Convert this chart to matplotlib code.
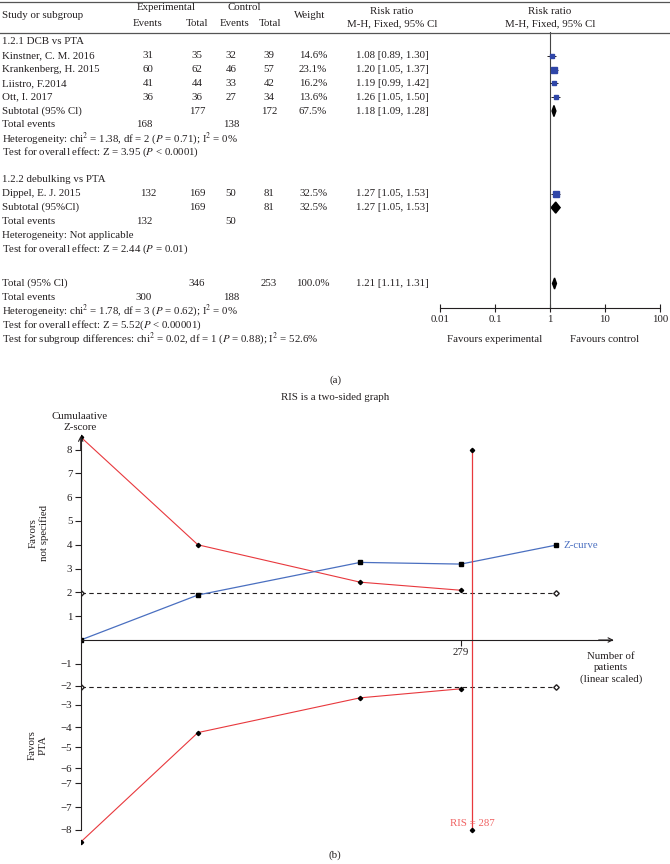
import matplotlib
matplotlib.use("Agg")
import matplotlib.pyplot as plt
import numpy as np
from matplotlib.patches import Polygon

FS = 7.8
plt.rcParams['font.family'] = ['Liberation Serif', 'DejaVu Serif']
plt.rcParams['mathtext.fontset'] = 'stix'
plt.rcParams['font.size'] = FS

INK = '#231f20'
BLUE = '#2f46a8'
RED = '#e8383d'
ZBLUE = '#4a6fc0'

# ---- data: forest plot (a) ----
studies_1 = ["Kinstner, C. M. 2016", "Krankenberg, H. 2015", "Liistro, F.2014", "Ott, I. 2017"]
exp_events_1 = [31, 60, 41, 36]
exp_total_1 = [35, 62, 44, 36]
ctl_events_1 = [32, 46, 33, 27]
ctl_total_1 = [39, 57, 42, 34]
weight_1 = [14.6, 23.1, 16.2, 13.6]
rr_1 = [1.08, 1.20, 1.19, 1.26]
lo_1 = [0.89, 1.05, 0.99, 1.05]
hi_1 = [1.30, 1.37, 1.42, 1.50]

studies_2 = ["Dippel, E. J. 2015"]
exp_events_2 = [132]
exp_total_2 = [169]
ctl_events_2 = [50]
ctl_total_2 = [81]
weight_2 = [32.5]
rr_2 = [1.27]
lo_2 = [1.05]
hi_2 = [1.53]

# subtotal / total rows
pooled_labels = ["Subtotal (95% Cl)", "Subtotal (95%Cl)", "Total (95% Cl)"]
pooled_exp_total = [177, 169, 346]
pooled_ctl_total = [172, 81, 253]
pooled_weight = [67.5, 32.5, 100.0]
pooled_rr = [1.18, 1.27, 1.21]
pooled_lo = [1.09, 1.05, 1.11]
pooled_hi = [1.28, 1.53, 1.31]
pooled_exp_events = [168, 132, 300]
pooled_ctl_events = [138, 50, 188]

axis_ticks = [0.01, 0.1, 1, 10, 100]

# ---- data: trial sequential analysis (b) ----
patients_bound = [0, 86, 205, 279]
upper_bound = [8.53, 4.0, 2.43, 2.09]
lower_bound = [-8.49, -3.89, -2.43, -2.05]
patients_z = [0, 86, 205, 279, 349]
z_curve = [0, 1.89, 3.26, 3.19, 3.99]
z_conv = 1.96
ris = 287
ris_range = [-8, 8]
y_ticks_up = [1, 2, 3, 4, 5, 6, 7, 8]
y_ticks_low = [-1.0, -1.93, -2.73, -3.66, -4.5, -5.38, -6.01, -7.02, -7.98]
y_labels_low = ['−1', '−2', '−3', '−4', '−5', '−6', '−7', '−7', '−8']

W, H = 670, 864
fig = plt.figure(figsize=(W / 100, H / 100), dpi=100)


def fx(x):
    return x / W


def fy(y):
    return 1 - y / H


def txt(x, y, s, **kw):
    kw.setdefault('va', 'center')
    kw.setdefault('color', INK)
    fig.text(fx(x), fy(y), s, **kw)


# header rules
for yy in (1.5, 32.5):
    fig.add_artist(plt.Line2D([0, 1], [fy(yy), fy(yy)], color='#555555', lw=0.9))

txt(2, 16, "Study or subgroup")
txt(166, 8, "Experimental", ha='center')
txt(244, 8, "Control", ha='center')
for xx, s in zip([148, 197, 235, 270], ["Events", "Total", "Events", "Total"]):
    txt(xx, 24, s, ha='center')
txt(310, 16, "Weight", ha='center')
for xx in (392, 550):
    txt(xx, 11, "Risk ratio", ha='center')
    txt(xx, 24, "M-H, Fixed, 95% Cl", ha='center')

# row layout (pixel y of a row index)
ROW0, ROWH = 42, 13.8


def ry(k):
    return ROW0 + ROWH * k


col_ee, col_et, col_ce, col_ct, col_w, col_rr = 148, 197, 231, 269, 313, 392

ax_f = fig.add_axes([fx(440), fy(308), fx(660) - fx(440), (308 - 32) / H])
ax_f.set_xscale('log')
ax_f.set_xlim(0.01, 100)
ax_f.set_ylim((308 - ROW0) / ROWH, (32 - ROW0) / ROWH)
for sp in ('left', 'right', 'top'):
    ax_f.spines[sp].set_visible(False)
ax_f.spines['bottom'].set_color(INK)
ax_f.set_yticks([])
ax_f.set_xticks(axis_ticks)
ax_f.set_xticklabels(['0.01', '0.1', '1', '10', '100'])
ax_f.minorticks_off()
ax_f.tick_params(axis='x', direction='inout', length=6, width=0.8, pad=2,
                 labelsize=FS, colors=INK)
ax_f.patch.set_alpha(0)
ax_f.axvline(1, color='#444444', lw=0.8)


def study_rows(start, names, ee, et, ce, ct, w, rr, lo, hi):
    for i, name in enumerate(names):
        k = start + i
        y = ry(k)
        txt(2, y, name)
        txt(col_ee, y, str(ee[i]), ha='center')
        txt(col_et, y, str(et[i]), ha='center')
        txt(col_ce, y, str(ce[i]), ha='center')
        txt(col_ct, y, str(ct[i]), ha='center')
        txt(col_w, y, f"{w[i]:.1f}%", ha='center')
        txt(col_rr, y, f"{rr[i]:.2f} [{lo[i]:.2f}, {hi[i]:.2f}]", ha='center')
        ax_f.hlines(k, lo[i], hi[i], color=INK, lw=0.7)
        ax_f.plot(rr[i], k, 's', ms=0.78 * np.sqrt(w[i]), color=BLUE, mec=BLUE)


def pooled_row(k, j):
    y = ry(k)
    txt(2, y, pooled_labels[j])
    txt(col_et, y, str(pooled_exp_total[j]), ha='center')
    txt(col_ct, y, str(pooled_ctl_total[j]), ha='center')
    txt(col_w, y, f"{pooled_weight[j]:.1f}%", ha='center')
    txt(col_rr, y, f"{pooled_rr[j]:.2f} [{pooled_lo[j]:.2f}, {pooled_hi[j]:.2f}]", ha='center')
    h = 0.4
    dia = Polygon([(pooled_lo[j], k), (pooled_rr[j], k - h), (pooled_hi[j], k),
                   (pooled_rr[j], k + h)], closed=True, color='black')
    ax_f.add_patch(dia)
    y2 = ry(k + 1)
    txt(2, y2, "Total events")
    txt(col_ee - 4, y2, str(pooled_exp_events[j]), ha='center')
    txt(col_ce, y2, str(pooled_ctl_events[j]), ha='center')


# group 1
txt(2, ry(0), "1.2.1 DCB vs PTA")
study_rows(1, studies_1, exp_events_1, exp_total_1, ctl_events_1, ctl_total_1,
           weight_1, rr_1, lo_1, hi_1)
pooled_row(5, 0)
txt(2, ry(7), r"Heterogeneity: chi$^2$ = 1.38, df = 2 ($P$ = 0.71); I$^2$ = 0%")
txt(2, ry(8), r"Test for overall effect: Z = 3.95 ($P$ < 0.0001)")

# group 2
txt(2, ry(10), "1.2.2 debulking vs PTA")
study_rows(11, studies_2, exp_events_2, exp_total_2, ctl_events_2, ctl_total_2,
           weight_2, rr_2, lo_2, hi_2)
pooled_row(12, 1)
txt(2, ry(14), "Heterogeneity: Not applicable")
txt(2, ry(15), r"Test for overall effect: Z = 2.44 ($P$ = 0.01)")

# overall
pooled_row(17.5, 2)
txt(2, ry(19.5), r"Heterogeneity: chi$^2$ = 1.78, df = 3 ($P$ = 0.62); I$^2$ = 0%")
txt(2, ry(20.5), r"Test for overall effect: Z = 5.52($P$ < 0.00001)")
txt(2, ry(21.5), r"Test for subgroup differences: chi$^2$ = 0.02, df = 1 ($P$ = 0.88); I$^2$ = 52.6%")

txt(495, 339, "Favours experimental", ha='center')
txt(605, 339, "Favours control", ha='center')
txt(335, 380, "(a)", ha='center')
txt(335, 398, "RIS is a two-sided graph", ha='center')

# ---- panel (b) ----
PX0, PXS = 80.7, 1.363     # pixel x of 0 patients, px per patient
PY0, PYS = 640, 23.8       # pixel y of Z=0, px per unit
ax_b = fig.add_axes([fx(PX0), fy(850), fx(640) - fx(PX0), (850 - 430) / H])
ax_b.set_xlim(0, (640 - PX0) / PXS)
ax_b.set_ylim(-(850 - PY0) / PYS, (PY0 - 430) / PYS)
ax_b.patch.set_alpha(0)
for sp in ('right', 'top'):
    ax_b.spines[sp].set_visible(False)
ax_b.spines['bottom'].set_position(('data', 0))
ax_b.spines['bottom'].set_bounds(0, 390)
ax_b.spines['left'].set_bounds(-8, 8.5)
for sp in ('bottom', 'left'):
    ax_b.spines[sp].set_color(INK)
    ax_b.spines[sp].set_linewidth(0.8)
arr = dict(arrowstyle='->', lw=0.8, color=INK, shrinkA=0, shrinkB=0)
ax_b.annotate('', xy=(391, 0), xytext=(380, 0), arrowprops=arr)
ax_b.annotate('', xy=(0, 8.58), xytext=(0, 8.0), arrowprops=arr)

ax_b.set_yticks(y_ticks_up + y_ticks_low)
ax_b.set_yticklabels([str(v) for v in y_ticks_up] + y_labels_low)
ax_b.set_xticks([279])
ax_b.set_xticklabels(['279'])
ax_b.tick_params(axis='y', direction='out', length=4, width=0.8, labelsize=FS,
                 colors=INK, pad=2)
ax_b.tick_params(axis='x', direction='out', length=4, width=0.8, labelsize=FS,
                 colors=INK, pad=2)

mk = dict(ms=2.2, mfc='black', mec='black')
ax_b.plot(patients_bound, upper_bound, color=RED, lw=0.8, marker='D', **mk)
ax_b.plot(patients_bound, lower_bound, color=RED, lw=0.8, marker='D', **mk)
for sgn in (1, -1):
    ax_b.plot([patients_z[0], patients_z[-1]], [sgn * z_conv] * 2, color=INK,
              lw=0.8, ls=(0, (4, 3)), marker='D', ms=2.8, mfc='white', mec=INK)
ax_b.plot(patients_z, z_curve, color=ZBLUE, lw=0.9, marker='s', ms=2.3,
          mfc='black', mec='black')
ax_b.plot([ris, ris], ris_range, color=RED, lw=0.9, marker='D', **mk)

ax_b.text(354, z_curve[-1], "Z-curve", color=ZBLUE, va='center', ha='left', fontsize=FS)
ax_b.text(ris, ris_range[0] + 0.1, f"RIS = {ris}", color='#f06262', ha='center',
          va='bottom', fontsize=FS)
ax_b.text(389, -1.18, "Number of\npatients\n(linear scaled)", ha='center', va='center',
          color=INK, fontsize=FS, linespacing=1.25)

txt(80, 422, "Cumulaative\nZ-score", ha='center', linespacing=1.3)
txt(39, 533, "Favors\nnot specified", ha='center', rotation=90, linespacing=1.25)
txt(38, 745, "Favors\nPTA", ha='center', rotation=90, linespacing=1.25)
txt(335, 855, "(b)", ha='center')

fig.savefig("out.png", dpi=100)
